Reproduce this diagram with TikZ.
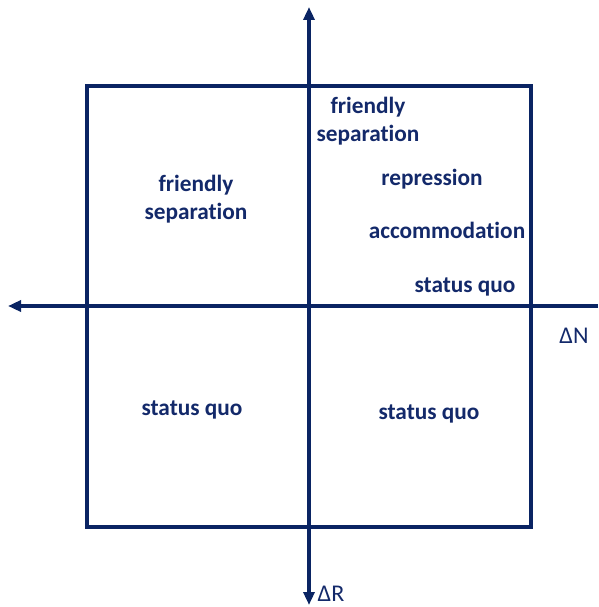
\documentclass[tikz,border=0pt]{standalone}
\usepackage{fontspec}
\setmainfont[Ligatures=NoCommon]{Carlito}
\usepackage{tikz}
\usetikzlibrary{arrows.meta,positioning}
\definecolor{quadnavy}{HTML}{0A2463}
\definecolor{quadtext}{HTML}{13296A}

\begin{document}
\begin{tikzpicture}[x=1pt,y=-1pt,
    axis/.style={quadnavy,line width=3.6pt,-{Triangle[width=11pt,length=13pt]}},
    quadlabel/.style={text=quadtext,font=\fontsize{23.3}{28}\selectfont\bfseries,align=center,inner sep=0pt},
    axislabel/.style={text=quadtext,font=\fontsize{24}{28}\selectfont,inner sep=0pt}]
  \useasboundingbox (0,0) rectangle (598,607);
  % quadrant box
  \coordinate (NW) at (87,86);
  \coordinate (SE) at (531,527);
  \draw[quadnavy,line width=3.2pt] (NW) rectangle (SE);
  % axes
  \coordinate (xright) at (598,306);
  \coordinate (xleft) at (8,306);
  \coordinate (ytop) at (309,7);
  \coordinate (ybot) at (309,605);
  \coordinate (O) at (309,306);
  \draw[axis] (xright) -- (xleft);
  \draw[axis] (O) -- (ytop);
  \draw[axis] (O) -- (ybot);
  \node[axislabel] (dN) at (574,336) {ΔN};
  \node[axislabel] (dR) at (331,594) {ΔR};
  % quadrant texts
  \node[quadlabel] (sepNW) at (196,199) {friendly\\separation};
  \node[quadlabel] (sepNE) at (368,121) {friendly\\separation};
  \node[quadlabel] (repr) at (432,179) {repression};
  \node[quadlabel] (accom) at (447,230) {accommodation};
  \node[quadlabel] (sqNE) at (465,287) {status quo};
  \node[quadlabel] (sqSW) at (192,410) {status quo};
  \node[quadlabel] (sqSE) at (429,414) {status quo};
\end{tikzpicture}
\end{document}
